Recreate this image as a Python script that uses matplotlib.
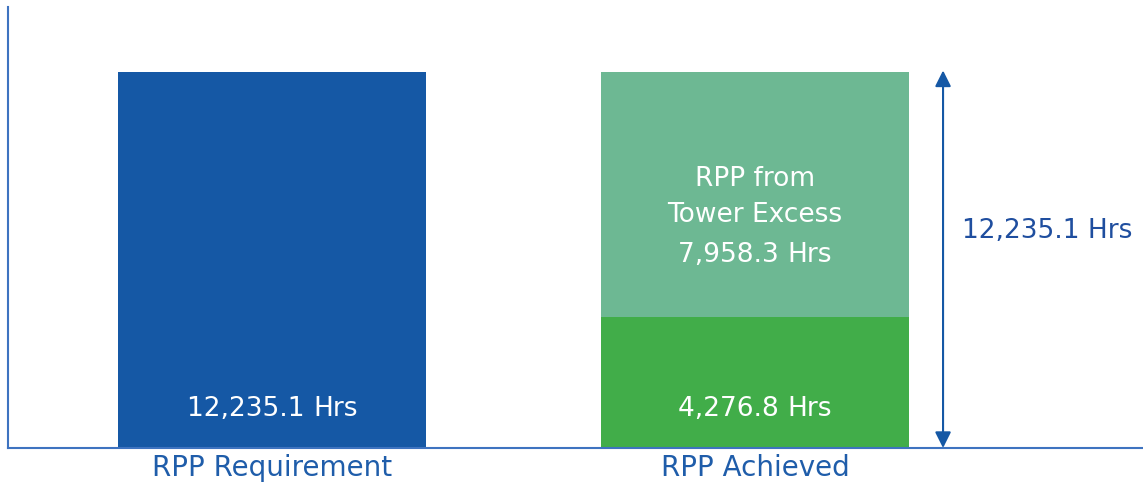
import matplotlib.pyplot as plt
from matplotlib.offsetbox import TextArea, HPacker, AnnotationBbox

plt.rcParams['font.family'] = ['DejaVu Sans']

# data
categories = ['RPP Requirement', 'RPP Achieved']
requirement = 12235.1
achieved_base = 4276.8
achieved_excess = 7958.3

blue = '#1558A5'
green = '#41AD49'
light_green = '#6DB893'
label_blue = '#1F4E9F'
spine_blue = '#3E73C0'

fig = plt.figure(figsize=(11.43, 4.85), dpi=100)
ax = fig.add_axes([8 / 1143, 1 - 449 / 485, 1135 / 1143, 441 / 485])

x = [0, 1]
width = 0.638
ax.bar(x[0], requirement, width, color=blue)
ax.bar(x[1], achieved_base, width, color=green)
ax.bar(x[1], achieved_excess, width, bottom=achieved_base, color=light_green)

ax.set_xlim(-0.547, 1.803)
ax.set_ylim(0, 14350)
ax.set_xticks([])
ax.set_yticks([])
for s in ['top', 'right']:
    ax.spines[s].set_visible(False)
for s in ['left', 'bottom']:
    ax.spines[s].set_color(spine_blue)
    ax.spines[s].set_linewidth(1.5)

# category labels below axis
for xi, cat in zip(x, categories):
    ax.text(xi, -160, cat, ha='center', va='top', fontsize=20, color='#1F5DAA')


def hrs_label(xpos, ypos, value):
    num = TextArea('{:,.1f} '.format(value),
                   textprops=dict(color='white', fontsize=19))
    unit = TextArea('Hrs', textprops=dict(color='white', fontsize=19))
    box = HPacker(children=[num, unit], align='baseline', pad=0, sep=0)
    ab = AnnotationBbox(box, (xpos, ypos), frameon=False, box_alignment=(0.5, 0.5))
    ax.add_artist(ab)


hrs_label(x[0], 1300, requirement)
hrs_label(x[1], 1300, achieved_base)
ax.text(x[1], 8190, 'RPP from\nTower Excess', ha='center', va='center',
        fontsize=19, color='white', linespacing=1.5)
hrs_label(x[1], 6300, achieved_excess)

# dimension arrow on the right
arrow_x = 1.389
ax.annotate('', xy=(arrow_x, requirement + 50), xytext=(arrow_x, 0),
            arrowprops=dict(arrowstyle='<|-|>', color=blue, lw=1.5,
                            mutation_scale=24, shrinkA=0, shrinkB=0))
ax.text(1.429, 7100, '{:,.1f} Hrs'.format(requirement), ha='left', va='center',
        fontsize=19, color=label_blue)

fig.savefig('out.png', dpi=100)
